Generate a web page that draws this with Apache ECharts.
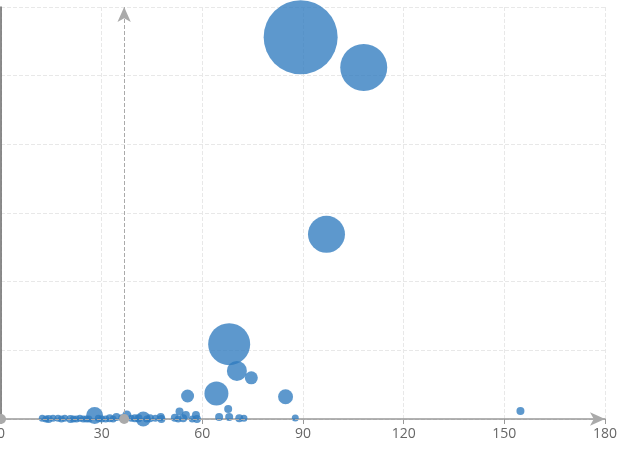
<!DOCTYPE html>
<html>
<head>
<meta charset="utf-8">
<script src="https://cdn.jsdelivr.net/npm/echarts@6/dist/echarts.min.js"></script>
<style>
    html, body { margin: 0; padding: 0; background: #fff; }
    #main { width: 628px; height: 455px; }
</style>
</head>
<body>
<div id="main"></div>
<script>
// x, y and bubble diameter for every point
var xValues = [89.3, 108.1, 97.0, 68.0, 70.3, 74.6, 64.2, 55.6, 84.8, 154.8, 67.7, 87.7,
    12.3, 13.4, 14.2, 15.5, 17.0, 19.0, 20.7, 22.5, 24.5, 26.2, 27.9, 30.0, 32.4, 34.4, 36.0,
    37.5, 39.9, 41.0, 42.4, 44.4, 47.6, 47.8, 51.8, 53.2, 54.3, 55.1, 58.1, 58.4, 65.0, 68.0, 71.0, 72.4,
    18.0, 21.6, 23.5, 25.4, 29.0, 31.2, 33.4, 38.8, 43.4, 46.0, 52.8, 57.0];
var yValues = [55.6, 51.2, 26.9, 10.9, 7.0, 6.0, 3.7, 3.35, 3.25, 1.16, 1.46, 0.15,
    0.1, 0, 0, 0.1, 0.1, 0.1, 0, 0, 0, 0, 0.5, 0, 0.1, 0.3, 0.2,
    0.6, 0.1, 0.1, 0, 0.1, 0.3, 0, 0.2, 1.1, 0.1, 0.6, 0.6, 0, 0.3, 0.3, 0.1, 0.1,
    0, 0, 0.1, 0, 0.1, 0, 0, 0.1, 0, 0.1, 0, 0];
var sizes = [74, 47, 37, 42, 20, 13, 24, 13, 15, 8, 8, 7,
    7, 7, 8, 7, 7, 7, 8, 7, 7, 7, 17, 7, 8, 8, 7,
    9, 8, 8, 15, 8, 8, 8, 8, 8, 8, 8, 8, 8, 8, 8, 8, 7,
    7, 7, 7, 7, 7, 7, 7, 7, 7, 7, 7, 7];
var xTicks = [0, 30, 60, 90, 120, 150, 180];
var markX = 36.7;

var points = [];
for (var i = 0; i < xValues.length; i++) {
    points.push([xValues[i], yValues[i], sizes[i]]);
}

var chart = echarts.init(document.getElementById('main'));
var option = {
    animation: false,
    grid: { left: 1, right: 23, top: 7, bottom: 36, outerBoundsMode: 'none', containLabel: false },
    xAxis: {
        type: 'value',
        min: xTicks[0],
        max: xTicks[xTicks.length - 1],
        interval: 30,
        axisLine: { lineStyle: { color: '#999', width: 1.5 } },
        axisTick: { show: true, length: 5, lineStyle: { color: '#999' } },
        axisLabel: { color: '#666', fontSize: 14, fontFamily: 'Open Sans', margin: 8 },
        splitLine: { lineStyle: { color: '#e8e8e8', type: 'dashed' } }
    },
    yAxis: {
        type: 'value',
        min: 0,
        max: 60,
        interval: 10,
        axisLine: { show: true, lineStyle: { color: '#666', width: 1.5 } },
        axisTick: { show: false },
        axisLabel: { show: false },
        splitLine: { lineStyle: { color: '#e8e8e8', type: 'dashed' } }
    },
    series: [{
        type: 'scatter',
        data: points,
        symbolSize: function (d) { return d[2]; },
        itemStyle: { color: '#2f7bbf', opacity: 0.78 },
        markLine: {
            silent: true,
            symbol: ['circle', 'arrow'],
            symbolSize: [10, 15],
            label: { show: false },
            lineStyle: { color: '#aaa', type: 'dashed', width: 1 },
            data: [
                [{ coord: [0, 0] }, { coord: [180, 0] }],
                [{ coord: [markX, 0] }, { coord: [markX, 60] }]
            ]
        }
    }]
};
chart.setOption(option);
</script>
</body>
</html>
